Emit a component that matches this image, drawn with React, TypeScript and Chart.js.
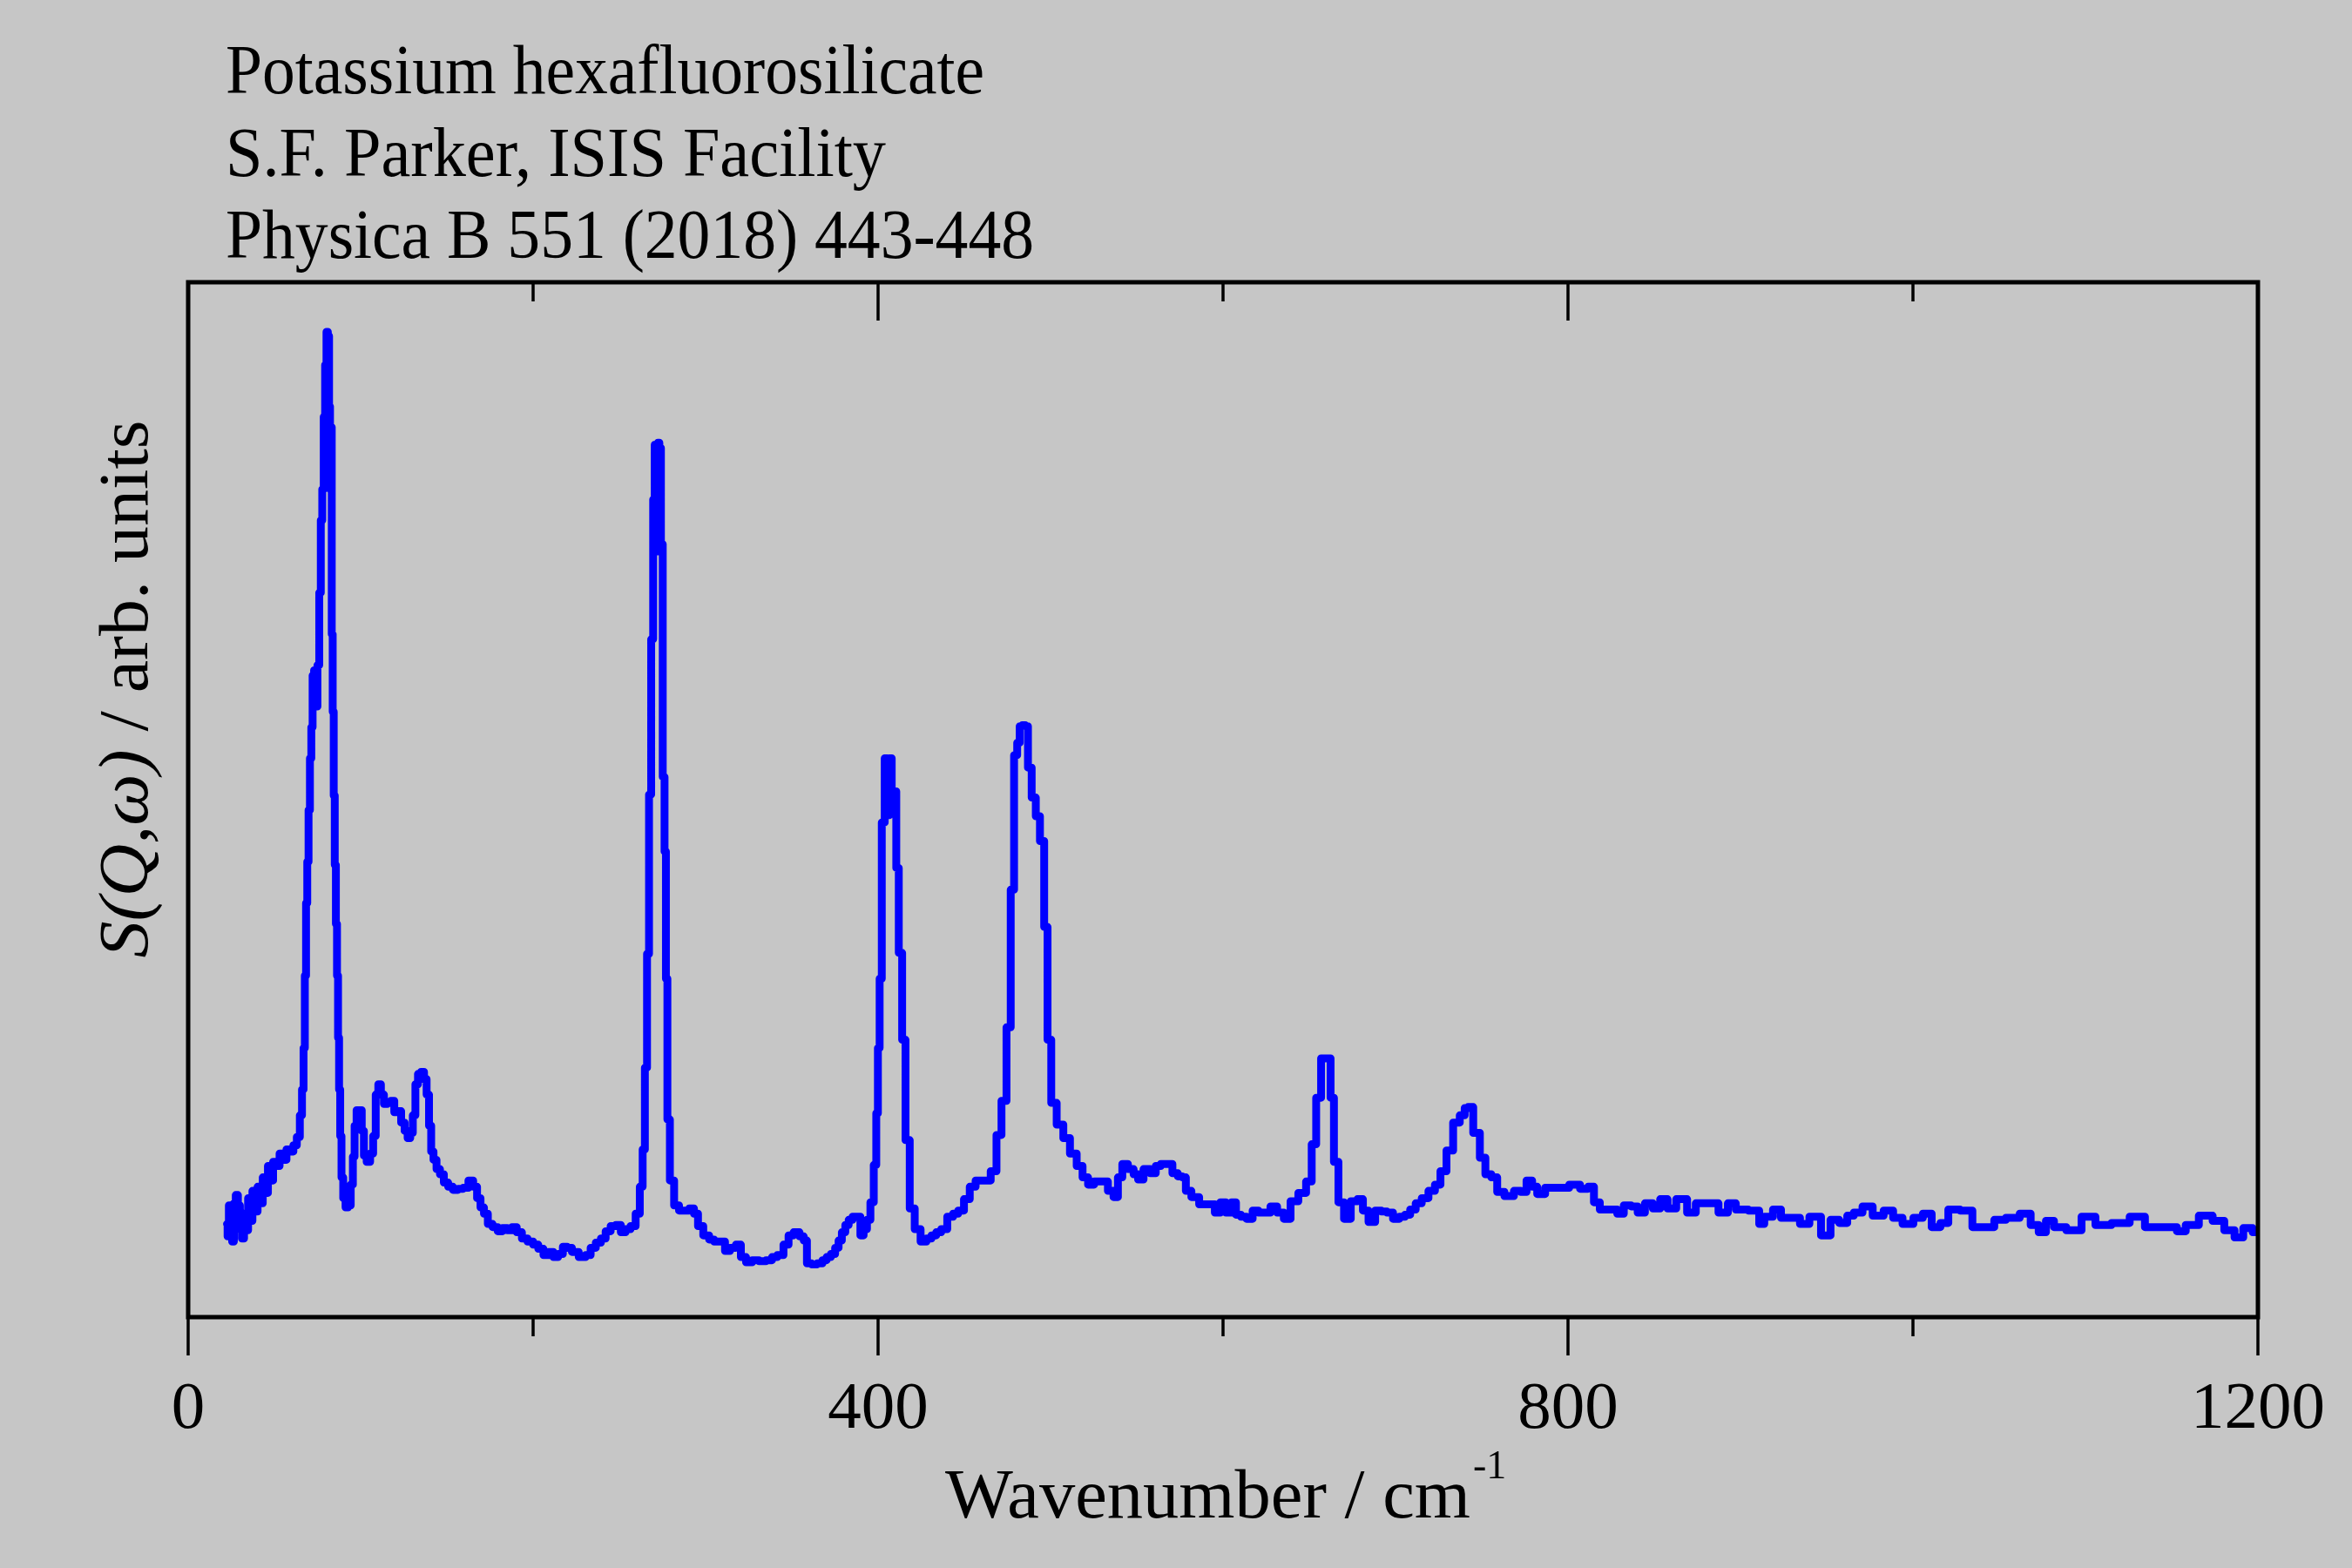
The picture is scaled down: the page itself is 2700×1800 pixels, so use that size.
import React, { useEffect, useRef } from "react";
import { Chart, registerables } from "chart.js";

Chart.register(...registerables);

const titleLines = [
  "Potassium hexafluorosilicate",
  "S.F. Parker, ISIS Facility",
  "Physica B 551 (2018) 443-448",
];
const xTickValues = [0, 400, 800, 1200];
const xMinorTicks = [200, 600, 1000];

const wavenumbers = [
  22.5, 23.2, 24.0, 25.0, 26.0, 27.0, 28.2, 29.5, 30.5, 31.8, 33.0, 34.0, 35.5, 36.5, 38.0, 39.5,
  41.0, 42.5, 44.0, 45.5, 47.0, 48.5, 50.0, 52.0, 54.0, 56.0, 58.0, 60.0, 62.0, 64.0, 65.5, 66.5,
  67.3, 68.0, 68.7, 69.4, 70.2, 71.0, 71.8, 72.5, 73.5, 74.4, 75.5, 76.5, 77.3, 78.2, 79.0, 79.8,
  80.6, 81.4, 82.0, 82.5, 83.0, 83.5, 84.1, 84.7, 85.3, 86.0, 86.6, 87.2, 87.8, 88.5, 89.3, 90.5,
  92.0, 93.5, 95.0, 96.0, 97.0, 98.3, 100.0, 101.3, 102.5, 104.5, 106.5, 108.0, 109.5, 111.0, 112.5, 114.5,
  116.5, 118.5, 120.5, 122.5, 124.5, 126.5, 128.0, 129.5, 131.0, 132.5, 134.0, 136.0, 137.5, 139.0, 140.3, 141.5,
  143.0, 145.0, 147.0, 149.5, 152.0, 155.0, 158.0, 161.0, 164.0, 166.5, 168.5, 170.5, 172.5, 175.0, 178.0, 181.0,
  183.5, 186.5, 189.0, 192.0, 195.0, 198.5, 201.5, 204.5, 207.5, 210.5, 213.0, 216.0, 218.5, 221.0, 224.0, 228.9,
  232.0, 234.7, 238.0, 240.6, 243.5, 246.4, 249.5, 252.2, 255.0, 258.0, 260.9, 262.8, 264.2, 265.4, 266.7, 267.7,
  269.2, 270.0, 271.0, 272.0, 272.7, 273.7, 274.5, 275.8, 276.6, 277.4, 278.3, 280.3, 283.2, 286.0, 289.0, 292.0,
  294.5, 296.7, 300.6, 303.5, 306.4, 310.3, 312.2, 316.1, 319.0, 321.9, 325.0, 329.0, 333.0, 337.0, 340.0, 343.2,
  347.1, 349.1, 352.9, 356.0, 357.8, 359.7, 363.0, 366.5, 369.0, 371.3, 374.0, 376.2, 378.0, 380.0, 382.0, 383.9,
  386.5, 388.8, 390.7, 392.5, 394.6, 396.5, 398.5, 399.4, 400.4, 401.4, 402.9, 404.8, 405.8, 407.2, 408.6, 410.1,
  411.0, 413.0, 414.9, 416.9, 419.8, 422.7, 426.6, 429.5, 432.4, 435.0, 438.2, 442.0, 445.0, 447.9, 451.7, 454.6,
  458.5, 463.4, 467.2, 470.1, 473.0, 475.9, 477.9, 479.8, 481.5, 482.7, 484.5, 486.2, 487.6, 490.5, 492.4, 495.3,
  497.3, 499.2, 501.6, 505.5, 509.3, 513.2, 517.1, 520.0, 523.5, 527.0, 531.3, 535.2, 537.8, 540.3, 542.9, 546.8,
  549.5, 552.0, 555.8, 559.7, 562.3, 565.5, 568.7, 572.6, 575.0, 577.8, 579.1, 584.2, 588.1, 593.3, 597.2, 599.7,
  603.6, 606.2, 608.8, 612.0, 615.2, 619.1, 622.0, 625.6, 629.4, 633.3, 637.2, 641.1, 646.2, 650.1, 652.7, 655.3,
  658.4, 660.0, 661.7, 663.0, 665.6, 668.2, 672.1, 676.0, 679.8, 682.4, 686.3, 690.1, 693.5, 696.6, 700.5, 704.0,
  707.0, 710.0, 713.4, 717.0, 721.2, 724.5, 727.6, 731.5, 735.3, 739.2, 741.0, 743.1, 747.0, 750.8, 753.4, 757.7,
  760.2, 766.1, 771.2, 774.0, 777.9, 780.5, 783.8, 789.7, 796.5, 804.9, 809.1, 814.2, 815.9, 821.0, 826.9, 830.2,
  834.5, 838.7, 842.1, 847.1, 851.3, 855.6, 859.8, 865.7, 872.4, 875.8, 884.3, 890.2, 895.2, 899.4, 909.6, 912.1,
  915.5, 922.2, 924.8, 932.4, 936.6, 943.3, 950.1, 954.3, 960.2, 963.6, 967.8, 973.7, 979.6, 986.4, 990.6, 997.3,
  1003.2, 1008.3, 1013.4, 1018.4, 1022.6, 1031.9, 1037.0, 1044.6, 1049.7, 1058.1, 1065.7, 1070.8, 1075.0, 1079.2, 1084.3, 1093.5,
  1102.0, 1109.6, 1120.6, 1130.7, 1138.3, 1150.9, 1155.2, 1161.1, 1170.4, 1177.1, 1183.9, 1189.0, 1194.0, 1199.9,
];

const intensity = [
  9.0, 7.8, 10.8, 8.2, 7.3, 11.0, 11.8, 10.8, 8.5, 7.6, 10.0, 8.4, 11.5, 9.3, 12.2, 10.2,
  12.6, 11.0, 13.5, 12.0, 14.6, 13.2, 15.0, 14.6, 15.8, 15.2, 16.2, 16.0, 16.6, 17.4, 19.5, 22.0,
  26.0, 33.0, 40.0, 44.0, 49.0, 54.0, 57.0, 62.0, 62.5, 59.0, 63.0, 70.0, 77.0, 80.0, 87.0, 92.0,
  95.2, 94.8, 88.0, 80.0, 86.0, 66.0, 58.5, 50.4, 43.7, 38.0, 33.0, 27.0, 22.0, 17.5, 13.5, 11.5,
  10.6, 10.8, 12.8, 15.5, 18.5, 20.0, 20.0, 18.0, 15.6, 15.0, 15.8, 17.5, 21.5, 22.5, 21.5, 20.6,
  20.7, 20.9, 19.8, 19.9, 18.8, 18.0, 17.3, 17.8, 19.5, 22.5, 23.5, 23.7, 23.0, 21.5, 18.5, 16.0,
  15.2, 14.3, 13.8, 13.0, 12.6, 12.3, 12.4, 12.5, 13.2, 12.6, 11.5, 10.6, 10.0, 9.0, 8.7, 8.3,
  8.6, 8.4, 8.7, 8.2, 7.6, 7.3, 7.0, 6.6, 6.0, 6.3, 5.8, 6.1, 6.8, 6.7, 6.3, 5.8,
  6.0, 6.7, 7.2, 7.6, 8.3, 8.8, 8.9, 8.2, 8.5, 8.8, 10.0, 12.6, 16.2, 24.1, 35.1, 50.5,
  65.5, 79.0, 84.3, 74.0, 84.5, 84.0, 74.7, 52.2, 45.0, 32.7, 19.1, 13.2, 10.8, 10.3, 10.3, 10.5,
  10.0, 8.8, 7.9, 7.5, 7.3, 7.3, 6.4, 6.7, 7.0, 5.8, 5.3, 5.5, 5.4, 5.5, 5.8, 6.0,
  7.0, 7.9, 8.2, 7.8, 7.4, 5.2, 5.1, 5.2, 5.5, 5.8, 6.1, 6.7, 7.4, 8.2, 8.9, 9.4,
  9.7, 9.7, 7.9, 8.5, 9.4, 11.1, 14.7, 19.7, 26.0, 32.7, 47.8, 54.0, 48.5, 54.0, 50.8, 50.8,
  43.4, 35.2, 26.8, 17.1, 10.5, 8.5, 7.3, 7.6, 7.9, 8.2, 8.5, 9.7, 10.0, 10.3, 11.4, 12.6,
  13.2, 13.2, 14.1, 17.6, 20.9, 28.0, 41.3, 54.3, 55.5, 57.1, 57.2, 57.1, 53.1, 50.2, 48.4, 46.0,
  37.7, 26.8, 20.7, 18.6, 17.3, 15.8, 14.6, 13.5, 12.8, 13.1, 13.1, 12.2, 11.6, 13.5, 14.8, 14.3,
  13.8, 13.3, 14.3, 13.9, 14.6, 14.8, 14.8, 13.9, 13.6, 13.5, 12.2, 11.6, 10.9, 10.9, 10.1, 11.1,
  10.1, 11.1, 9.9, 9.7, 9.5, 10.3, 10.1, 10.1, 10.7, 10.1, 9.5, 11.2, 12.0, 13.1, 16.7, 21.2,
  25.0, 25.0, 25.0, 21.2, 15.0, 11.1, 9.5, 11.2, 11.4, 10.3, 9.2, 10.3, 10.2, 10.1, 9.5, 9.7,
  9.9, 10.4, 11.0, 11.5, 12.2, 12.8, 14.1, 16.1, 18.8, 19.5, 20.2, 20.3, 17.8, 15.4, 13.8, 13.5,
  12.1, 11.7, 12.2, 12.1, 13.2, 12.6, 11.9, 12.5, 12.5, 12.8, 12.4, 12.6, 11.1, 10.4, 10.4, 10.0,
  10.8, 10.7, 10.1, 11.0, 10.5, 11.4, 10.5, 11.4, 10.1, 11.0, 11.0, 10.1, 11.0, 10.4, 10.3, 9.0,
  9.7, 10.4, 9.6, 9.6, 9.0, 9.7, 7.9, 9.4, 9.1, 9.8, 10.1, 10.7, 9.8, 10.3, 9.6, 9.0,
  9.6, 10.0, 8.7, 9.1, 10.4, 10.3, 8.7, 8.7, 9.4, 9.6, 10.0, 8.9, 8.2, 9.3, 8.7, 8.4,
  9.7, 8.9, 9.1, 9.7, 8.7, 8.7, 8.3, 8.9, 9.8, 9.3, 8.4, 7.7, 8.6, 8.2,
];

const SERIF = '"Liberation Serif", "Times New Roman", serif';

// draw a text stretched horizontally so that it spans a given width
function fitText(ctx: any, text: string, x: number, y: number, width: number) {
  const w = ctx.measureText(text).width;
  ctx.save();
  ctx.translate(x, y);
  ctx.scale(width / w, 1);
  ctx.fillText(text, 0, 0);
  ctx.restore();
}

const decorPlugin = {
  id: "decor",
  afterDraw(chart: any) {
    const ctx = chart.ctx;
    const area = chart.chartArea;
    const xs = chart.scales.x;
    ctx.save();
    ctx.strokeStyle = "#000";
    ctx.fillStyle = "#000";

    // frame
    ctx.lineWidth = 5;
    ctx.beginPath();
    ctx.rect(area.left, area.top, area.right - area.left, area.bottom - area.top);
    ctx.stroke();

    // ticks
    ctx.lineWidth = 3.5;
    const tick = (v: number, len: number) => {
      const px = xs.getPixelForValue(v);
      ctx.beginPath();
      ctx.moveTo(px, area.bottom);
      ctx.lineTo(px, area.bottom + len);
      ctx.stroke();
      ctx.beginPath();
      ctx.moveTo(px, area.top);
      ctx.lineTo(px, area.top + len);
      ctx.stroke();
    };
    xTickValues.forEach((v) => tick(v, 44));
    xMinorTicks.forEach((v) => tick(v, 22));

    // title lines
    ctx.font = `80px ${SERIF}`;
    ctx.textAlign = "left";
    ctx.textBaseline = "alphabetic";
    const baselines = [107, 202, 296];
    const widths = [871, 758, 928];
    titleLines.forEach((t, i) => fitText(ctx, t, 259, baselines[i], widths[i]));

    // x axis title
    ctx.font = `81px ${SERIF}`;
    const xtLeft = 1085;
    fitText(ctx, "Wavenumber / cm", xtLeft, 1742, 603);
    ctx.font = `46px ${SERIF}`;
    ctx.fillText("-1", xtLeft + 603 + 3, 1697);

    // y axis title (rotated)
    ctx.translate(169, 791);
    ctx.rotate(-Math.PI / 2);
    const p1 = "S(Q,\u03c9)";
    const p2 = " / arb. units";
    ctx.font = `italic 80px ${SERIF}`;
    const w1 = ctx.measureText(p1).width;
    ctx.font = `80px ${SERIF}`;
    const w2 = ctx.measureText(p2).width;
    const k = 617 / (w1 + w2);
    ctx.scale(k, 1);
    const start = -(w1 + w2) / 2;
    ctx.font = `italic 80px ${SERIF}`;
    ctx.fillText(p1, start, 0);
    ctx.font = `80px ${SERIF}`;
    ctx.fillText(p2, start + w1, 0);

    ctx.restore();
  },
};

export default function App() {
  const canvasRef = useRef<HTMLCanvasElement | null>(null);

  useEffect(() => {
    const canvas = canvasRef.current;
    if (!canvas) return;
    const points = wavenumbers.map((x, i) => ({ x, y: intensity[i] }));
    const chart = new Chart(canvas, {
      type: "line",
      data: {
        datasets: [
          {
            data: points,
            borderColor: "#0000ff",
            borderWidth: 9,
            pointRadius: 0,
            stepped: "middle",
            fill: false,
            borderJoinStyle: "round",
            borderCapStyle: "round",
          } as any,
        ],
      },
      options: {
        animation: false,
        responsive: false,
        maintainAspectRatio: false,
        layout: { padding: { left: 216, right: 108, top: 324, bottom: 0 } },
        plugins: {
          legend: { display: false },
          tooltip: { enabled: false },
          title: { display: false },
        },
        scales: {
          x: {
            type: "linear",
            position: "bottom",
            min: 0,
            max: 1200,
            afterBuildTicks: (s: any) => {
              s.ticks = xTickValues.map((v) => ({ value: v }));
            },
            afterFit: (s: any) => {
              s.height = 288;
              s.paddingLeft = 0;
              s.paddingRight = 0;
            },
            grid: { display: false, drawTicks: false },
            border: { display: false },
            ticks: {
              color: "#000",
              font: { family: SERIF, size: 77 },
              padding: 61,
              maxRotation: 0,
              autoSkip: false,
              callback: (v: any) => String(v),
            },
          },
          y: { display: false, min: 0, max: 100 },
        },
      } as any,
      plugins: [decorPlugin],
    });
    return () => chart.destroy();
  }, []);

  return (
    <div
      style={{
        position: "fixed",
        left: 0,
        top: 0,
        width: 2700,
        height: 1800,
        background: "#c6c6c6",
      }}
    >
      <canvas
        ref={canvasRef}
        width={2700}
        height={1800}
        style={{ width: 2700, height: 1800, display: "block" }}
      />
    </div>
  );
}
